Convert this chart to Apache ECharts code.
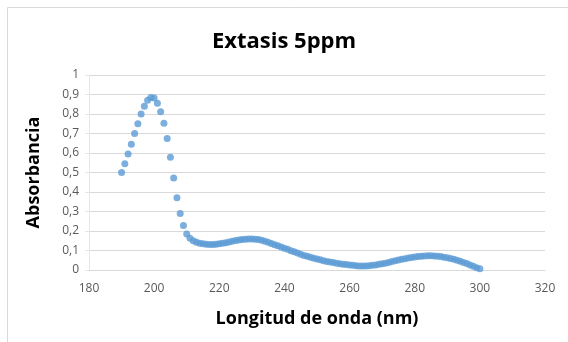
<!DOCTYPE html>
<html>
<head>
<meta charset="utf-8">
<script src="https://cdn.jsdelivr.net/npm/echarts@6/dist/echarts.min.js"></script>
<style>html,body{margin:0;padding:0;background:#fff;}#c{width:568px;height:342px;}</style>
</head>
<body>
<div id="c"></div>
<script>
var title = 'Extasis 5ppm';
var xTitle = 'Longitud de onda (nm)';
var yTitle = 'Absorbancia';
var wavelengths = [];
for (var w = 190; w <= 300; w++) wavelengths.push(w);
var absorbance = [
  0.500, 0.545, 0.595, 0.645, 0.700, 0.750, 0.800, 0.840, 0.870, 0.885,
  0.882, 0.855, 0.812, 0.752, 0.675, 0.578, 0.472, 0.370, 0.290, 0.228,
  0.185, 0.163, 0.150, 0.142, 0.137, 0.134, 0.132, 0.131, 0.131, 0.132,
  0.134, 0.137, 0.140, 0.144, 0.148, 0.151, 0.154, 0.156, 0.158, 0.159,
  0.159, 0.158, 0.156, 0.152, 0.147, 0.142, 0.136, 0.130, 0.124, 0.118,
  0.112, 0.106, 0.099, 0.093, 0.087, 0.081, 0.075, 0.070, 0.065, 0.060,
  0.056, 0.052, 0.048, 0.044, 0.041, 0.038, 0.035, 0.032, 0.030, 0.028,
  0.026, 0.024, 0.022, 0.021, 0.021, 0.021, 0.022, 0.024, 0.026, 0.029,
  0.032, 0.035, 0.039, 0.043, 0.047, 0.051, 0.055, 0.058, 0.061, 0.064,
  0.067, 0.069, 0.071, 0.072, 0.073, 0.073, 0.072, 0.071, 0.069, 0.066,
  0.063, 0.059, 0.055, 0.050, 0.045, 0.039, 0.033, 0.026, 0.019, 0.012,
  0.006
];
var data = wavelengths.map(function (w, i) { return [w, absorbance[i]]; });
var chart = echarts.init(document.getElementById('c'), null, {renderer: 'canvas'});
var font = '"Open Sans", "Noto Sans", sans-serif';
chart.setOption({
  animation: false,
  backgroundColor: '#fff',
  graphic: [{
    type: 'rect', shape: {x: 7.5, y: 7.5, width: 700, height: 500},
    style: {fill: 'none', stroke: '#d9d9d9', lineWidth: 1}, silent: true
  }],
  title: {
    text: title, left: 'center', top: 26,
    textStyle: {fontFamily: font, fontWeight: 'bold', fontSize: 22, color: '#000'}
  },
  grid: {left: 89, right: 23, top: 75, bottom: 72},
  xAxis: {
    type: 'value', min: 180, max: 320, interval: 20,
    name: xTitle, nameLocation: 'middle', nameGap: 40,
    nameTextStyle: {fontFamily: font, fontWeight: 'bold', fontSize: 18, color: '#000'},
    axisLine: {show: true, lineStyle: {color: '#d9d9d9'}},
    axisTick: {show: false},
    axisLabel: {fontFamily: font, fontSize: 12, color: '#595959', margin: 13},
    splitLine: {show: false}
  },
  yAxis: {
    type: 'value', min: 0, max: 1, interval: 0.1,
    name: yTitle, nameLocation: 'middle', nameGap: 46, nameRotate: 90,
    nameTextStyle: {fontFamily: font, fontWeight: 'bold', fontSize: 18, color: '#000'},
    axisLine: {show: true, lineStyle: {color: '#e6e6e6'}},
    axisTick: {show: true, length: 4, lineStyle: {color: '#e6e6e6'}},
    axisLabel: {
      fontFamily: font, fontSize: 12, color: '#595959', margin: 10,
      formatter: function (v) {
        var r = Math.round(v * 10) / 10;
        if (r === 0) return '0';
        if (r === 1) return '1';
        return r.toFixed(1).replace('.', ',');
      }
    },
    splitLine: {show: true, lineStyle: {color: '#d9d9d9'}}
  },
  series: [{
    type: 'scatter', data: data, symbol: 'circle', symbolSize: 7,
    itemStyle: {color: '#5B9BD5'}
  }]
});
</script>
</body>
</html>
